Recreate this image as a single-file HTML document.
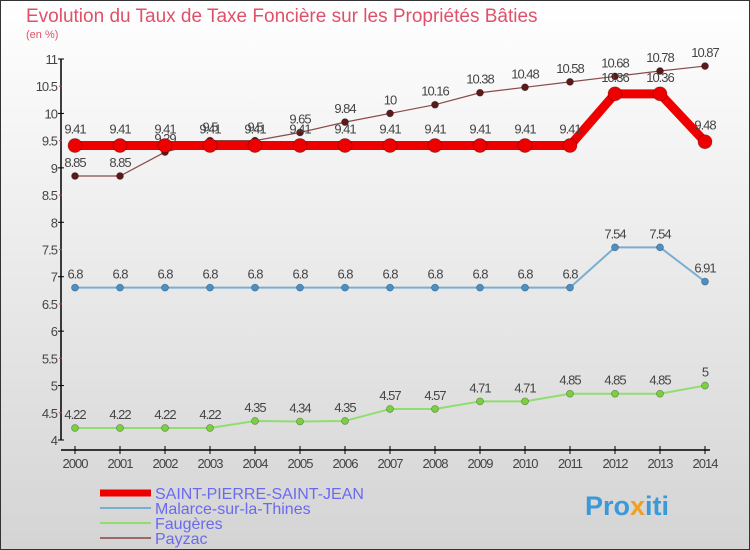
<!DOCTYPE html>
<html><head><meta charset="utf-8"><style>
body{margin:0;width:750px;height:550px;overflow:hidden;font-family:"Liberation Sans",sans-serif}
svg{display:block}
</style></head><body>
<svg id="c" width="750" height="550" xmlns="http://www.w3.org/2000/svg">
<defs><linearGradient id="bg" x1="0" y1="0" x2="0" y2="1"><stop offset="0" stop-color="#ffffff"/><stop offset="1" stop-color="#d4d4d4"/></linearGradient></defs>
<rect x="0.5" y="0.5" width="749" height="549" fill="url(#bg)" stroke="#333"/>
<text x="26" y="22" font-size="19" fill="#e0506a">Evolution du Taux de Taxe Foncière sur les Propriétés Bâties</text>
<text x="26" y="38" font-size="11" fill="#e0506a">(en %)</text>
<g id="axes"></g><g id="series"></g>
<g>
<line x1="100" y1="493" x2="151" y2="493" stroke="#ee0000" stroke-width="7"/>
<text x="155" y="499" font-size="16" fill="#6a6af0">SAINT-PIERRE-SAINT-JEAN</text>
<line x1="100" y1="508" x2="151" y2="508" stroke="#7aaed0" stroke-width="2"/>
<text x="155" y="514" font-size="16" fill="#6a6af0">Malarce-sur-la-Thines</text>
<line x1="100" y1="523" x2="151" y2="523" stroke="#90dd70" stroke-width="2"/>
<text x="155" y="529" font-size="16" fill="#6a6af0">Faugères</text>
<line x1="100" y1="538" x2="151" y2="538" stroke="#9a6a6a" stroke-width="2"/>
<text x="155" y="544" font-size="16" fill="#6a6af0">Payzac</text>
</g>
<text x="585" y="515" font-size="27" font-weight="bold" fill="#3a9ad8">Pro<tspan fill="#f0a020">x</tspan>iti</text>
</svg>
<script>
const years=[2000,2001,2002,2003,2004,2005,2006,2007,2008,2009,2010,2011,2012,2013,2014];
const yTicks=[4,4.5,5,5.5,6,6.5,7,7.5,8,8.5,9,9.5,10,10.5,11];
const stPierre=[9.41,9.41,9.41,9.41,9.41,9.41,9.41,9.41,9.41,9.41,9.41,9.41,10.36,10.36,9.48];
const malarce=[6.8,6.8,6.8,6.8,6.8,6.8,6.8,6.8,6.8,6.8,6.8,6.8,7.54,7.54,6.91];
const faugeres=[4.22,4.22,4.22,4.22,4.35,4.34,4.35,4.57,4.57,4.71,4.71,4.85,4.85,4.85,5];
const payzac=[8.85,8.85,9.29,9.5,9.5,9.65,9.84,10,10.16,10.38,10.48,10.58,10.68,10.78,10.87];
const NS="http://www.w3.org/2000/svg";
const x=i=>75+i*45;
const y=v=>440-(v-4)*(381/7);
function mk(tag,attrs,parent,txt){const e=document.createElementNS(NS,tag);for(const k in attrs)e.setAttribute(k,attrs[k]);if(txt!==undefined)e.textContent=txt;parent.appendChild(e);return e;}
const ax=document.getElementById('axes');
let e=mk('line',{x1:61,y1:59,x2:61,y2:440,stroke:'#000','stroke-width':1.5},ax);


e=mk('line',{x1:61,y1:450,x2:710,y2:450,stroke:'#000','stroke-width':1.5},ax);


yTicks.forEach((t,i)=>{
  const major=i%2===0;
  mk('line',{x1:major?58:59,y1:y(t),x2:major?64:62,y2:y(t),stroke:major?'#000':'#e03030','stroke-width':1},ax);
  e=mk('text',{x:57,y:y(t)+5,'font-size':13,'text-anchor':'end',fill:'#444','letter-spacing':'-1'},ax,String(t));
  
  
});
years.forEach((yr,i)=>{
  mk('line',{x1:x(i),y1:446,x2:x(i),y2:454,stroke:'#000'},ax);
  e=mk('text',{x:x(i),y:468,'font-size':13,'text-anchor':'middle',fill:'#444','letter-spacing':'-1'},ax,String(yr));
  
  
});
const sg=document.getElementById('series');
function series(vals,name,color,lw,r,dot,lblOff){
  const g=mk('g',{},sg);
  
  
  const p=mk('polyline',{points:vals.map((v,i)=>x(i)+','+y(v)).join(' '),fill:'none',stroke:color,'stroke-width':lw,'stroke-linejoin':'round'},g);
  
  
  vals.forEach((v,i)=>{
    const c=mk('circle',{cx:x(i),cy:y(v),r:r,fill:dot,stroke:'rgba(0,0,0,0.3)','stroke-width':0.8},g);
    
    
    const t=mk('text',{x:x(i),y:y(v)-lblOff,'font-size':13,'text-anchor':'middle',fill:'#444','letter-spacing':'-1'},g,String(v));
    
    
  });
}
series(faugeres,'faugeres','#90dd70',2,3.5,'#7ad040',9);
series(malarce,'malarce','#7aaed0',2,3.5,'#4a90c8',9);
series(payzac,'payzac','#8a4a4a',1.2,3.5,'#5a1a1a',9);
series(stPierre,'saint-pierre','#ee0000',9,7,'#ee0000',12);
</script>
</body></html>
